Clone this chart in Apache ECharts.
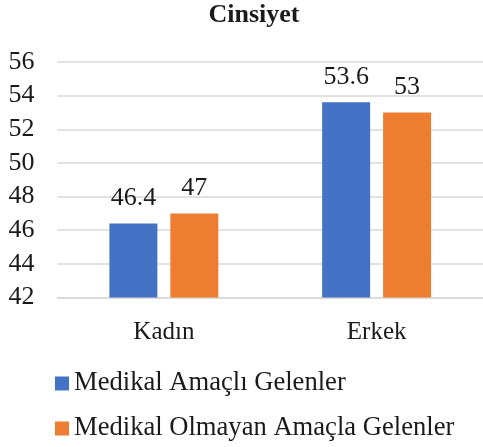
<!DOCTYPE html>
<html>
<head>
<meta charset="utf-8">
<script src="https://cdn.jsdelivr.net/npm/echarts@6/dist/echarts.min.js"></script>
<style>
  html, body { margin: 0; padding: 0; background: #fff; }
  #chart { width: 483px; height: 447px; }
</style>
</head>
<body>
<div id="chart"></div>
<script>
  var categories = ['Kadın', 'Erkek'];
  var seriesNames = ['Medikal Amaçlı Gelenler', 'Medikal Olmayan Amaçla Gelenler'];
  var medikal = [46.4, 53.6];
  var medikalOlmayan = [47, 53];

  var font = '"Liberation Serif", "Times New Roman", serif';
  var textColor = '#1a1a1a';

  var chart = echarts.init(document.getElementById('chart'));
  chart.setOption({
    animation: false,
    title: {
      text: 'Cinsiyet',
      left: 254,
      textAlign: 'center',
      top: 2,
      padding: 0,
      textStyle: { fontFamily: font, fontSize: 26, fontWeight: 'bold', color: textColor }
    },
    legend: {
      orient: 'vertical',
      left: 55,
      top: 370,
      padding: 0,
      itemGap: 18,
      itemWidth: 14,
      itemHeight: 14,
      icon: 'rect',
      textStyle: { fontFamily: font, fontSize: 26.6, lineHeight: 26, color: textColor },
      data: seriesNames
    },
    grid: {
      left: 57.5,
      top: 62,
      width: 430.6,
      height: 235.5
    },
    xAxis: {
      type: 'category',
      data: categories,
      axisLine: { lineStyle: { color: '#d9d9d9', width: 1.5 } },
      axisTick: { show: false },
      axisLabel: { fontFamily: font, fontSize: 25, color: textColor, margin: 22 }
    },
    yAxis: {
      type: 'value',
      min: 42,
      max: 56,
      interval: 2,
      axisLine: { show: false },
      axisTick: { show: false },
      splitLine: { lineStyle: { color: '#d9d9d9', width: 1.5 } },
      axisLabel: { fontFamily: font, fontSize: 26, color: textColor, margin: 23 }
    },
    series: [
      {
        name: seriesNames[0],
        type: 'bar',
        data: medikal,
        barWidth: 48,
        barGap: '27%',
        itemStyle: { color: '#4472C4' },
        label: { show: true, position: 'top', distance: 12, fontFamily: font, fontSize: 26, color: textColor }
      },
      {
        name: seriesNames[1],
        type: 'bar',
        data: medikalOlmayan,
        barWidth: 48,
        barGap: '27%',
        itemStyle: { color: '#ED7D31' },
        label: { show: true, position: 'top', distance: 12, fontFamily: font, fontSize: 26, color: textColor }
      }
    ]
  });
</script>
</body>
</html>
